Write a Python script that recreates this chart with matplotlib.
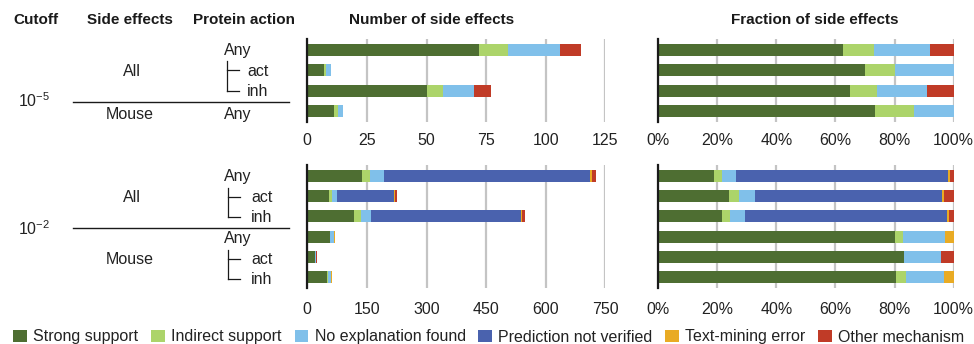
import matplotlib
matplotlib.use("Agg")
import matplotlib.pyplot as plt
import numpy as np
from matplotlib.patches import Patch
from matplotlib.lines import Line2D

plt.rcParams['font.family'] = ['Liberation Sans', 'DejaVu Sans']

W, H = 974, 344

categories = ["Strong support", "Indirect support", "No explanation found",
              "Prediction not verified", "Text-mining error", "Other mechanism"]
colors = ["#4e6e32", "#acd46a", "#80c0ea", "#4a62ae", "#e9ab24", "#c03b27"]

# Cutoff 1e-5: All/Any, All/act, All/inh, Mouse/Any
strong_5   = [72, 7, 50, 11]
indirect_5 = [12, 1, 7, 2]
noexpl_5   = [22, 2, 13, 2]
notver_5   = [0, 0, 0, 0]
textmin_5  = [0, 0, 0, 0]
other_5    = [9, 0, 7, 0]

# Cutoff 1e-2: All/Any, All/act, All/inh, Mouse/Any, Mouse/act, Mouse/inh
strong_2   = [137, 54, 118, 56, 20, 50]
indirect_2 = [20, 8, 16, 2, 0, 2]
noexpl_2   = [35, 12, 27, 10, 3, 8]
notver_2   = [520, 144, 376, 0, 0, 0]
textmin_2  = [5, 2, 4, 2, 0, 2]
other_2    = [10, 7, 8, 0, 1, 0]

ticks_top = [0, 25, 50, 75, 100, 125]
ticks_bottom = [0, 150, 300, 450, 600, 750]
ticks_frac = [0, 0.2, 0.4, 0.6, 0.8, 1.0]


def fpos(x, y):
    return x / W, 1 - y / H


def axes_px(x0, y0, x1, y1):
    return fig.add_axes([x0 / W, 1 - y1 / H, (x1 - x0) / W, (y1 - y0) / H])


def stacked(ax, series, normalize, xmax, ticks, ticklabels, nrows, pad):
    data = np.array(series, dtype=float)
    if normalize:
        data = data / data.sum(axis=0)
    y = np.arange(nrows)
    left = np.zeros(nrows)
    for vals, c in zip(data, colors):
        ax.barh(y, vals, left=left, height=0.58, color=c, edgecolor='none', zorder=3)
        left += vals
    ax.set_xlim(0, xmax)
    ax.set_ylim(nrows - 0.47, -0.53)
    ax.set_xticks(ticks)
    ax.set_xticklabels(ticklabels, fontsize=11.5, color="#222222")
    ax.set_yticks([])
    ax.tick_params(axis='x', length=0, pad=pad)
    for s in ['top', 'right', 'bottom']:
        ax.spines[s].set_visible(False)
    ax.spines['left'].set_color('#1a1a1a')
    ax.spines['left'].set_linewidth(1.6)
    ax.spines['left'].set_zorder(4)
    ax.grid(axis='x', color='#c4c4c4', linewidth=1.6, zorder=1)
    ax.set_axisbelow(True)


fig = plt.figure(figsize=(W / 100, H / 100), dpi=100)

top_series = [strong_5, indirect_5, noexpl_5, notver_5, textmin_5, other_5]
bot_series = [strong_2, indirect_2, noexpl_2, notver_2, textmin_2, other_2]

ax1 = axes_px(307.3, 39, 605.3, 122)
stacked(ax1, top_series, False, 125, ticks_top, [str(t) for t in ticks_top], 4, 8)
ax2 = axes_px(658.3, 39, 953.6, 122)
stacked(ax2, top_series, True, 1.0, ticks_frac,
        [f"{int(round(t * 100))}%" for t in ticks_frac], 4, 8)
ax3 = axes_px(307.3, 165, 605.3, 288)
stacked(ax3, bot_series, False, 750, ticks_bottom, [str(t) for t in ticks_bottom], 6, 10)
ax4 = axes_px(658.3, 165, 953.6, 288)
stacked(ax4, bot_series, True, 1.0, ticks_frac,
        [f"{int(round(t * 100))}%" for t in ticks_frac], 6, 10)

# Column headers
hdr = dict(fontsize=11, fontweight='bold', ha='center', va='center', color='#1a1a1a')
fig.text(*fpos(36, 20), "Cutoff", **hdr)
fig.text(*fpos(130, 20), "Side effects", **hdr)
fig.text(*fpos(244, 20), "Protein action", **hdr)
fig.text(*fpos(432, 20), "Number of side effects", **hdr)
fig.text(*fpos(815, 20), "Fraction of side effects", **hdr)

lab = dict(fontsize=11.5, ha='center', va='center', color='#222222')
labl = dict(fontsize=11.5, ha='left', va='center', color='#222222')


def hline(x0, x1, y, lw=1.0):
    fig.add_artist(Line2D([x0 / W, x1 / W], [1 - y / H, 1 - y / H],
                          color='#1a1a1a', linewidth=lw))


def vline(x, y0, y1, lw=0.9):
    fig.add_artist(Line2D([x / W, x / W], [1 - y0 / H, 1 - y1 / H],
                          color='#1a1a1a', linewidth=lw))


def bracket(x, ytop, y_act, y_inh):
    vline(x, ytop, y_inh)
    hline(x, x + 12, y_act, 0.9)
    hline(x, x + 12, y_inh, 0.9)


# Cutoff 1e-5 block
fig.text(*fpos(238, 50), "Any", **lab)
bracket(227, 61, 70, 91)
fig.text(*fpos(247, 71), "act", **labl)
fig.text(*fpos(247, 91), "inh", **labl)
fig.text(*fpos(132, 72), "All", **lab)
hline(73, 289, 102)
fig.text(*fpos(34, 101), r"10$^{\mathregular{-5}}$", **lab)
fig.text(*fpos(130, 115), "Mouse", **lab)
fig.text(*fpos(238, 115), "Any", **lab)

# Cutoff 1e-2 block
fig.text(*fpos(238, 176), "Any", **lab)
bracket(228, 188, 197, 217)
fig.text(*fpos(251, 197), "act", **labl)
fig.text(*fpos(251, 217), "inh", **labl)
fig.text(*fpos(132, 198), "All", **lab)
hline(73, 289, 228)
fig.text(*fpos(34, 229), r"10$^{\mathregular{-2}}$", **lab)
fig.text(*fpos(238, 239), "Any", **lab)
bracket(228, 250, 259, 279)
fig.text(*fpos(251, 259), "act", **labl)
fig.text(*fpos(251, 279), "inh", **labl)
fig.text(*fpos(130, 260), "Mouse", **lab)

handles = [Patch(facecolor=c, edgecolor='none', label=n) for c, n in zip(colors, categories)]
fig.legend(handles=handles, loc='center', bbox_to_anchor=(489 / W, 1 - 337 / H),
           ncol=6, frameon=False, fontsize=11.5, handlelength=0.85, handleheight=0.85,
           handletextpad=0.4, columnspacing=0.8, borderpad=0, labelcolor='#222222')

fig.savefig("out.png", dpi=100)
